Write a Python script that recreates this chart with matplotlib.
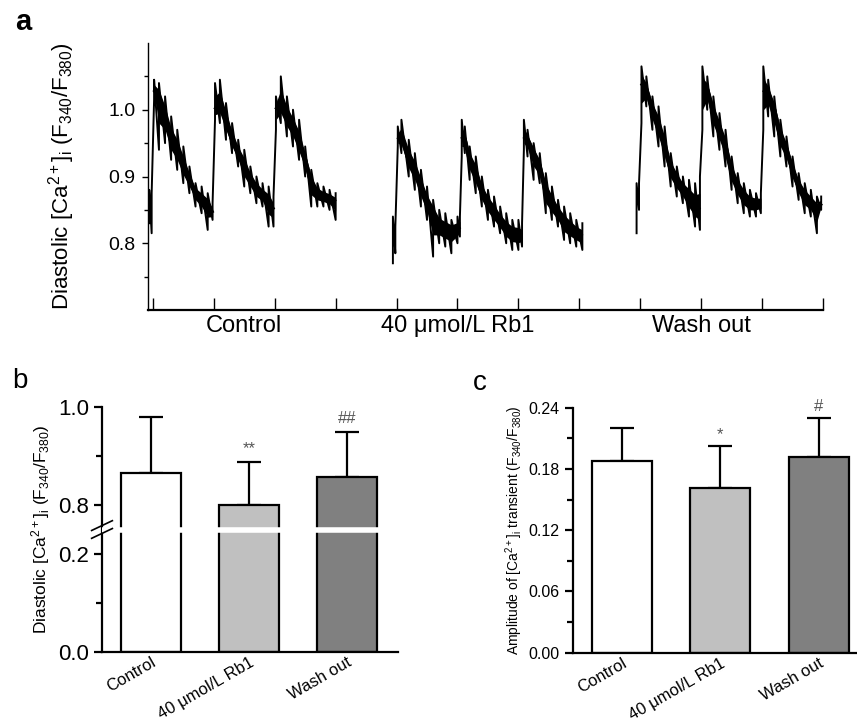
import numpy as np
import matplotlib.pyplot as plt
from matplotlib.ticker import MultipleLocator, FixedLocator

plt.rcParams['font.family'] = ['Liberation Sans', 'DejaVu Sans']
plt.rcParams['mathtext.fontset'] = 'custom'
plt.rcParams['mathtext.rm'] = 'Liberation Sans'
plt.rcParams['mathtext.it'] = 'Liberation Sans:italic'
plt.rcParams['mathtext.bf'] = 'Liberation Sans:bold'

# ---- panel a: ratio traces (time in beats) ----
# each sample: core value (mid) and the low / high extent of the noise
ctrl_t = [-0.06, -0.02,
          0.02, 0.1, 0.2, 0.3, 0.4, 0.5, 0.6, 0.7, 0.8, 0.9, 0.98,
          1.02, 1.1, 1.2, 1.3, 1.4, 1.5, 1.6, 1.7, 1.8, 1.9, 1.98,
          2.02, 2.1, 2.2, 2.3, 2.4, 2.5, 2.6, 2.7, 2.8, 2.9, 3.0]
ctrl_mid = [0.865, 0.855,
            1.03, 1.02, 0.99, 0.955, 0.94, 0.915, 0.895, 0.875, 0.865, 0.858, 0.845,
            1.00, 1.01, 0.985, 0.955, 0.935, 0.915, 0.895, 0.88, 0.872, 0.862, 0.85,
            1.00, 1.01, 0.99, 0.975, 0.95, 0.925, 0.89, 0.875, 0.87, 0.868, 0.862]
ctrl_lo = [0.83, 0.815,
           1.015, 0.94, 0.95, 0.925, 0.91, 0.89, 0.875, 0.855, 0.845, 0.82, 0.835,
           0.985, 0.98, 0.955, 0.935, 0.915, 0.885, 0.875, 0.86, 0.855, 0.825, 0.825,
           0.97, 0.98, 0.96, 0.945, 0.925, 0.90, 0.855, 0.855, 0.855, 0.85, 0.835]
ctrl_hi = [0.88, 0.875,
           1.045, 1.04, 1.02, 0.99, 0.97, 0.945, 0.915, 0.89, 0.885, 0.875, 0.86,
           1.04, 1.045, 1.01, 0.98, 0.955, 0.94, 0.915, 0.90, 0.89, 0.885, 0.87,
           1.02, 1.05, 1.02, 1.0, 0.985, 0.945, 0.91, 0.89, 0.885, 0.88, 0.875]
ctrl_jumps = [0.0, 1.0, 2.0]

rb1_t = [3.94, 3.98,
         4.02, 4.08, 4.2, 4.3, 4.4, 4.5, 4.6, 4.7, 4.8, 4.9, 5.0, 5.04,
         5.07, 5.12, 5.2, 5.3, 5.4, 5.5, 5.6, 5.7, 5.8, 5.9, 6.0, 6.06,
         6.09, 6.15, 6.25, 6.35, 6.45, 6.55, 6.65, 6.75, 6.85, 6.95, 7.05]
rb1_mid = [0.81, 0.80,
           0.955, 0.96, 0.925, 0.91, 0.885, 0.86, 0.845, 0.825, 0.82, 0.82, 0.822, 0.825,
           0.96, 0.955, 0.925, 0.905, 0.875, 0.86, 0.845, 0.832, 0.82, 0.815, 0.812, 0.81,
           0.96, 0.955, 0.935, 0.915, 0.875, 0.858, 0.845, 0.83, 0.822, 0.815, 0.81]
rb1_lo = [0.77, 0.785,
          0.945, 0.935, 0.90, 0.88, 0.855, 0.835, 0.78, 0.80, 0.795, 0.785, 0.80, 0.81,
          0.93, 0.935, 0.895, 0.875, 0.855, 0.835, 0.825, 0.815, 0.80, 0.79, 0.79, 0.795,
          0.94, 0.93, 0.895, 0.89, 0.845, 0.835, 0.825, 0.805, 0.80, 0.795, 0.79]
rb1_hi = [0.84, 0.825,
          0.975, 0.985, 0.955, 0.935, 0.91, 0.885, 0.865, 0.85, 0.845, 0.835, 0.84, 0.84,
          0.985, 0.975, 0.945, 0.93, 0.90, 0.88, 0.87, 0.855, 0.845, 0.835, 0.835, 0.83,
          0.985, 0.97, 0.95, 0.935, 0.905, 0.885, 0.865, 0.855, 0.845, 0.835, 0.83]
rb1_jumps = [4.0, 5.05, 6.07]

wash_t = [7.94, 7.98,
          8.02, 8.1, 8.2, 8.3, 8.4, 8.5, 8.6, 8.7, 8.8, 8.9, 8.98,
          9.02, 9.1, 9.2, 9.3, 9.4, 9.5, 9.6, 9.7, 9.8, 9.9, 9.98,
          10.02, 10.1, 10.2, 10.3, 10.4, 10.5, 10.6, 10.7, 10.8, 10.9, 10.97]
wash_mid = [0.86, 0.87,
            1.04, 1.03, 1.0, 0.975, 0.945, 0.91, 0.895, 0.88, 0.868, 0.855, 0.85,
            1.03, 1.03, 0.995, 0.97, 0.945, 0.905, 0.885, 0.87, 0.86, 0.86, 0.86,
            1.03, 1.025, 1.0, 0.96, 0.94, 0.91, 0.885, 0.87, 0.86, 0.85, 0.86]
wash_lo = [0.815, 0.85,
           0.98, 1.005, 0.97, 0.945, 0.915, 0.885, 0.87, 0.86, 0.84, 0.825, 0.82,
           0.97, 1.0, 0.96, 0.94, 0.915, 0.88, 0.86, 0.845, 0.84, 0.84, 0.845,
           0.97, 0.99, 0.96, 0.93, 0.915, 0.885, 0.865, 0.845, 0.84, 0.815, 0.85]
wash_hi = [0.89, 0.89,
           1.065, 1.05, 1.02, 1.005, 0.975, 0.935, 0.915, 0.90, 0.895, 0.89, 0.90,
           1.065, 1.05, 1.02, 0.995, 0.97, 0.93, 0.905, 0.89, 0.88, 0.875, 0.875,
           1.065, 1.045, 1.02, 0.985, 0.96, 0.93, 0.905, 0.89, 0.88, 0.87, 0.87]
wash_jumps = [8.0, 9.0, 10.0]

trace_labels = ['Control', '40 μmol/L Rb1', 'Wash out']
trace_label_t = [1.5, 5.0, 9.0]

# ---- panels b and c: summary bars ----
groups = ['Control', '40 μmol/L Rb1', 'Wash out']
bar_colors = ['white', '#c0c0c0', '#808080']
diast_mean = [0.865, 0.800, 0.858]
diast_sd = [0.114, 0.088, 0.091]
diast_marks = ['', '**', '##']
amp_mean = [0.188, 0.161, 0.192]
amp_sd = [0.032, 0.041, 0.038]
amp_marks = ['', '*', '#']

ca_label = r'Diastolic [Ca$^{2+}$]$_\mathrm{i}$ (F$_{340}$/F$_{380}$)'
amp_label = r'Amplitude of [Ca$^{2+}$]$_\mathrm{i}$ transient (F$_{340}$/F$_{380}$)'


def draw_trace(ax, t, mid, lo, hi, jumps):
    t = np.asarray(t)
    mid, lo, hi = np.asarray(mid), np.asarray(lo), np.asarray(hi)
    # noise: vertical strokes lo->hi joined to the next sample
    zx = np.repeat(t, 2)
    zy = np.column_stack([lo, hi]).ravel()
    ax.plot(zx, zy, color='black', lw=1.4)
    # dense core band (inner half of the noise), one piece per transient
    cuts = np.searchsorted(t, jumps)
    for st, sm, sl, sh in zip(np.split(t, cuts), np.split(mid, cuts),
                              np.split(lo, cuts), np.split(hi, cuts)):
        if len(st) > 2:
            ax.fill_between(st, (sm + sl) / 2, (sm + sh) / 2, color='black',
                            lw=0)
            ax.plot(st, sm, color='black', lw=3.0, solid_capstyle='butt')


def squash(v):
    # broken axis b: 0-0.25 kept, 0.75-1.0 moved down by 0.5
    v = np.asarray(v, dtype=float)
    return np.where(v >= 0.5, v - 0.5, v)


fig = plt.figure(figsize=(8.57, 7.25), dpi=100)

# panel a
axa = fig.add_axes([148/857, 1-310/725, 675/857, 267/725])
draw_trace(axa, ctrl_t, ctrl_mid, ctrl_lo, ctrl_hi, ctrl_jumps)
draw_trace(axa, rb1_t, rb1_mid, rb1_lo, rb1_hi, rb1_jumps)
draw_trace(axa, wash_t, wash_mid, wash_lo, wash_hi, wash_jumps)
axa.set_xlim(-0.08, 11.0)
axa.set_ylim(0.7, 1.1)
axa.spines['top'].set_visible(False)
axa.spines['right'].set_visible(False)
axa.spines['left'].set_linewidth(1.0)
axa.spines['bottom'].set_linewidth(1.6)
axa.set_xticks(np.arange(0, 12))
axa.tick_params(axis='x', direction='in', length=9, width=1, labelbottom=False)
axa.yaxis.set_major_locator(FixedLocator([0.8, 0.9, 1.0]))
axa.yaxis.set_minor_locator(FixedLocator([0.75, 0.85, 0.95, 1.05]))
axa.tick_params(axis='y', which='major', direction='out', length=4, width=1,
                labelsize=14, pad=5)
axa.tick_params(axis='y', which='minor', direction='out', length=3, width=1)
for lab, tl in zip(trace_labels, trace_label_t):
    axa.text(tl, -0.06, lab, transform=axa.get_xaxis_transform(),
             ha='center', va='center', fontsize=17)
axa.set_ylabel(ca_label, fontsize=16)
axa.yaxis.set_label_coords(-0.105, 0.5)
fig.text(15/857, 1-22/725, 'a', fontsize=21, fontweight='bold', va='center')

# panel b
axb = fig.add_axes([102/857, 1-652/725, 296/857, 245/725])
xb = np.arange(len(groups))
axb.bar(xb, squash(diast_mean), width=0.61, color=bar_colors, edgecolor='black',
        linewidth=1.6, zorder=2)
axb.errorbar(xb, squash(diast_mean), yerr=[np.zeros(3), diast_sd], fmt='none',
             ecolor='black', elinewidth=1.6, capsize=8.5, capthick=1.6, zorder=1)
tops = squash(np.add(diast_mean, diast_sd))
for x, top, m in zip(xb, tops, diast_marks):
    axb.annotate(m, (x, top), xytext=(0, 4), textcoords='offset points',
                 ha='center', va='bottom', fontsize=12, color='#555555')
axb.axhline(0.25, color='white', lw=4, zorder=5)
axb.set_xlim(-0.5, 2.52)
axb.set_ylim(0, 0.5)
axb.spines['top'].set_visible(False)
axb.spines['right'].set_visible(False)
axb.spines['left'].set_linewidth(1.6)
axb.spines['bottom'].set_linewidth(1.6)
axb.yaxis.set_major_locator(FixedLocator([0.0, 0.2, 0.3, 0.5]))
axb.set_yticklabels(['0.0', '0.2', '0.8', '1.0'])
axb.yaxis.set_minor_locator(FixedLocator([0.1, 0.4]))
axb.tick_params(axis='y', which='major', direction='out', length=6, width=1.6,
                labelsize=16)
axb.tick_params(axis='y', which='minor', direction='out', length=4, width=1.6)
axb.set_xticks(xb)
axb.set_xticklabels(groups, rotation=30, ha='right', rotation_mode='anchor',
                    fontsize=12)
axb.tick_params(axis='x', length=0, pad=2)
# break marks on the left spine
for dy in (-0.008, 0.008):
    axb.plot([-0.035, 0.035], [0.25 + dy - 0.01, 0.25 + dy + 0.01],
             transform=axb.get_yaxis_transform(), color='black', lw=1.2,
             clip_on=False, zorder=6)
axb.set_ylabel(ca_label, fontsize=12.5)
axb.yaxis.set_label_coords(-0.17, 0.5)
fig.text(12/857, 1-381/725, 'b', fontsize=20, va='center')

# panel c
axc = fig.add_axes([573/857, 1-652.7/725, 284/857, 245/725])
axc.bar(xb, amp_mean, width=0.61, color=bar_colors, edgecolor='black',
        linewidth=1.6, zorder=2)
axc.errorbar(xb, amp_mean, yerr=[np.zeros(3), amp_sd], fmt='none',
             ecolor='black', elinewidth=1.6, capsize=8.5, capthick=1.6, zorder=1)
for x, top, m in zip(xb, np.add(amp_mean, amp_sd), amp_marks):
    axc.annotate(m, (x, top), xytext=(0, 3), textcoords='offset points',
                 ha='center', va='bottom', fontsize=12, color='#555555')
axc.set_xlim(-0.5, 2.39)
axc.set_ylim(0, 0.24)
axc.spines['top'].set_visible(False)
axc.spines['right'].set_visible(False)
axc.spines['left'].set_linewidth(1.6)
axc.spines['bottom'].set_linewidth(1.6)
axc.yaxis.set_major_locator(MultipleLocator(0.06))
axc.yaxis.set_minor_locator(MultipleLocator(0.03))
axc.yaxis.set_major_formatter(lambda v, p: f'{v:.2f}')
axc.tick_params(axis='y', which='major', direction='out', length=6, width=1.6,
                labelsize=11.5)
axc.tick_params(axis='y', which='minor', direction='out', length=4, width=1.6)
axc.set_xticks(xb)
axc.set_xticklabels(groups, rotation=30, ha='right', rotation_mode='anchor',
                    fontsize=12)
axc.tick_params(axis='x', length=0, pad=2)
axc.set_ylabel(amp_label, fontsize=10)
axc.yaxis.set_label_coords(-0.17, 0.5)
fig.text(473/857, 1-383/725, 'c', fontsize=20, va='center')

fig.savefig('out.png', dpi=100)
